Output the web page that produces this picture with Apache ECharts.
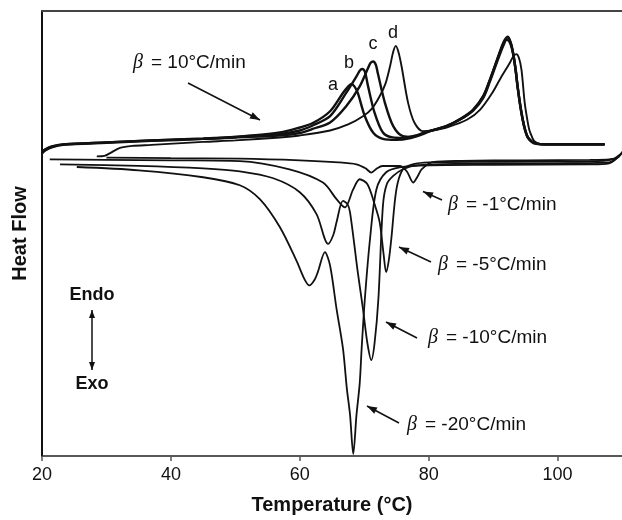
<!DOCTYPE html>
<html>
<head>
<meta charset="utf-8">
<script src="https://cdn.jsdelivr.net/npm/echarts@6/dist/echarts.min.js"></script>
<style>
  html, body { margin: 0; padding: 0; background: #fff; }
  #chart { width: 622px; height: 520px; }
</style>
</head>
<body>
<div id="chart"></div>
<script>
// heat flow in arbitrary units (endo up), temperature in °C
const heatA = [[20,304],[20.5,307],[21.5,310],[23.3,312.5],[30,314.5],[37,316.5],[45,318.5],[50,320.5],[56.9,325],[60,330],[62.1,334.7],[64.7,346.3],[66.7,364.7],[67.5,371],[68,373.7],[68.5,371],[69,364.7],[70.1,341.3],[71.4,324.7],[72.9,318.5],[75,317.5],[77,319],[79,323],[80.5,327],[82.7,331.3],[85,339],[86.9,348],[88.5,362],[89.5,378],[90.5,396],[91.2,409],[91.8,418],[92.3,421.3],[92.8,414],[93.1,405],[93.5,388],[93.8,371.3],[94.2,353],[94.6,338],[95,327],[95.4,320],[96,316],[96.7,314],[98,313],[107.3,313]];
const heatB = [[20,305],[20.5,307.5],[21.5,310.5],[23.3,313],[30,315],[37,317],[45,319],[50,320.5],[56.9,323.5],[60,327],[62,332],[64.7,341.3],[67.2,364.7],[68.8,381.3],[69.3,387],[69.7,388.7],[70.1,386],[70.6,371.3],[71.6,345],[72.9,325],[74.4,320],[76,319.5],[78,322],[80,326],[82.7,331],[85,338.5],[86.9,347.5],[88.5,361.5],[89.5,377.5],[90.5,395.5],[91.2,408],[91.8,417],[92.3,420.5],[92.8,413],[93.1,404],[93.5,387],[93.8,370.5],[94.2,352],[94.6,337],[95,326],[95.4,319.5],[96,315.5],[96.7,313.5],[98,313],[107.3,313]];
const heatC = [[20,305.5],[20.5,308],[21.5,311],[23.3,313],[30,315],[37,317],[45,318.5],[50,320],[56.9,322],[60,324.5],[62,328.5],[64.7,335],[67.2,351.3],[69.3,371.3],[70.6,389.7],[71,395],[71.4,396.3],[71.8,393],[72.1,384.7],[73.2,355],[74.5,331.3],[76,321.3],[77.5,320.5],[79,324],[80.5,327],[82.7,331],[85,338.5],[86.9,347],[88.5,360],[89.5,376],[90.5,394],[91.2,406],[91.7,414],[92.1,418],[92.5,416.5],[92.9,410],[93.2,401],[93.5,388],[93.8,371.3],[94.2,353],[94.6,338],[95,327],[95.4,320],[96,316],[96.7,314],[98,313],[107.3,313]];
const heatD = [[28.5,301],[29.7,301.5],[30.5,304],[32.1,309.5],[34,311.5],[37,312.5],[45,315.5],[50,317],[56.9,320],[60,322],[64.7,327],[67.5,333],[69.8,341.3],[71.2,349],[72.4,361.3],[73.3,374],[74,391.3],[74.5,406],[74.9,412],[75.3,406],[75.8,391.3],[76.8,355],[77.8,334.7],[79.1,326.3],[80.5,327],[83,330.5],[86,338],[88,348],[89.9,365],[91.2,380],[92.6,395],[93.1,401],[93.6,403.7],[94,400],[94.4,388],[94.9,355],[95.3,338],[95.6,328],[96,321],[96.4,316.3],[97.5,313],[107.3,313]];

const cool1 = [[30,299.7],[40,299.2],[50.7,298.7],[60,297],[66,295],[68.8,293],[70.2,289],[71.1,284.7],[72,289],[72.8,291.3],[75.5,291.3],[76.6,286],[77.6,274.7],[78.3,281],[78.9,288],[80.6,295.3],[85,296.5],[95,297],[105,297.5],[108,298],[109.3,299.5],[110.3,308]];
const cool5 = [[21.2,298],[30,297.5],[40,297],[50.7,296.3],[58.4,288],[63.6,274.7],[65.7,258],[67,249.7],[68.3,268],[69.3,278],[70.5,273],[71.6,253],[72.4,234.7],[73,203],[73.4,184.7],[73.8,196],[74.2,218],[75,268],[76,288],[77.5,293],[80,295],[90,295.5],[105,296],[108.5,298],[110.1,305]];
const cool10 = [[22.8,293],[35,291.5],[45,289],[50.7,286],[55.9,279],[60,265],[62.6,243],[64.4,213],[65.2,222],[65.7,234.7],[66.7,256.3],[67.4,253],[67.8,244.7],[69,184.7],[69.8,148],[70.5,113],[71.1,96.3],[71.6,113],[72.2,158],[72.9,251.3],[73.5,273],[74.5,281.3],[76,288],[78,292],[85,293.5],[100,294],[108,295],[109.8,303]];
const cool20 = [[25.4,290.3],[35,287],[45,280],[50.7,272],[53.8,258],[56.9,230],[59.5,196],[60.7,178],[61.5,171.3],[62.3,177],[62.8,184.7],[63.9,204.7],[64.7,191.3],[65.7,148],[66.7,108],[67.3,68],[67.8,41.3],[68.3,2],[68.8,41.3],[69.3,73],[69.6,108],[70.1,158],[70.9,218],[71.9,268],[73.4,285],[75.5,290],[80,292],[90,292.5],[105,293],[108,294],[109.5,301]];

const xTicks = [20, 40, 60, 80, 100];
const curveLabels = ['a', 'b', 'c', 'd'];

const chart = echarts.init(document.getElementById('chart'));

function curve(name, data, width) {
  return {
    name: name, type: 'line', data: data, showSymbol: false,
    smooth: 0.3,
    lineStyle: { color: '#111', width: width },
    clip: true, silent: true
  };
}

function arrow(x1, y1, x2, y2, both, len, half) {
  len = len || 10; half = half || 3.5;
  const out = [];
  const head = (ax, ay, bx, by) => {
    const a = Math.atan2(by - ay, bx - ax);
    const c = Math.cos(a), s = Math.sin(a);
    return {
      type: 'polygon',
      shape: { points: [[bx, by], [bx - len * c + half * s, by - len * s - half * c], [bx - len * c - half * s, by - len * s + half * c]] },
      style: { fill: '#111' }
    };
  };
  out.push({ type: 'line', shape: { x1: x1, y1: y1, x2: x2, y2: y2 }, style: { stroke: '#111', lineWidth: 1.5 } });
  out.push(head(x1, y1, x2, y2));
  if (both) out.push(head(x2, y2, x1, y1));
  return out;
}

function betaLabel(x, y, rest) {
  return [
    { type: 'text', style: { text: 'β', x: x, y: y, font: 'italic 20px "Liberation Serif", "DejaVu Serif", serif', fill: '#111', verticalAlign: 'middle' } },
    { type: 'text', style: { text: rest, x: x + 18, y: y, font: '19px "Liberation Sans", Arial, sans-serif', fill: '#111', verticalAlign: 'middle' } }
  ];
}

const labelPos = [[333, 85], [349, 63], [373, 44], [393, 33]];
const graphics = [].concat(
  betaLabel(133, 63, '= 10°C/min'),
  arrow(188, 83, 260, 120),
  betaLabel(448, 205, '= -1°C/min'),
  arrow(442, 200, 423, 191.5),
  betaLabel(438, 265, '= -5°C/min'),
  arrow(431, 262, 399, 247),
  betaLabel(428, 338, '= -10°C/min'),
  arrow(417, 338, 386, 322),
  betaLabel(407, 425, '= -20°C/min'),
  arrow(399, 423, 367, 406),
  arrow(92, 310, 92, 370, true, 8, 3),
  [
    { type: 'text', style: { text: 'Endo', x: 92, y: 295, font: 'bold 18px "Liberation Sans", Arial, sans-serif', fill: '#111', align: 'center', verticalAlign: 'middle' } },
    { type: 'text', style: { text: 'Exo', x: 92, y: 384, font: 'bold 18px "Liberation Sans", Arial, sans-serif', fill: '#111', align: 'center', verticalAlign: 'middle' } }
  ],
  curveLabels.map((t, i) => ({ type: 'text', style: { text: t, x: labelPos[i][0], y: labelPos[i][1], font: '18px "Liberation Sans", Arial, sans-serif', fill: '#111', align: 'center', verticalAlign: 'middle' } }))
);

chart.setOption({
  animation: false,
  backgroundColor: '#fff',
  grid: { left: 42, right: 0, top: 11, bottom: 62 },
  xAxis: [{
    type: 'value', min: 20, max: 110, interval: 20,
    name: 'Temperature (°C)', nameLocation: 'middle', nameGap: 39,
    nameTextStyle: { fontFamily: 'Liberation Sans, Arial, sans-serif', fontWeight: 'bold', fontSize: 20, color: '#111' },
    axisLine: { lineStyle: { color: '#222', width: 1.5 } },
    axisTick: { inside: false, length: 5, lineStyle: { color: '#555', width: 1.5 } },
    axisLabel: { fontFamily: 'Liberation Sans, Arial, sans-serif', fontSize: 18, color: '#111', margin: 10, showMaxLabel: false,
      formatter: v => xTicks.indexOf(v) >= 0 ? String(v) : '' },
    splitLine: { show: false }
  }, {
    type: 'value', position: 'top', min: 20, max: 110,
    axisLine: { onZero: false, lineStyle: { color: '#444', width: 2 } },
    axisTick: { show: false }, axisLabel: { show: false }, splitLine: { show: false }
  }],
  yAxis: [{
    type: 'value', min: 0, max: 447,
    name: 'Heat Flow', nameLocation: 'middle', nameGap: 12, nameRotate: 90,
    nameTextStyle: { fontFamily: 'Liberation Sans, Arial, sans-serif', fontWeight: 'bold', fontSize: 20, color: '#111' },
    axisLine: { show: true, lineStyle: { color: '#111', width: 2 } },
    axisTick: { show: false }, axisLabel: { show: false }, splitLine: { show: false }
  }, {
    type: 'value', position: 'right', min: 0, max: 447,
    axisLine: { show: true, onZero: false, lineStyle: { color: '#bbb', width: 1 } },
    axisTick: { show: false }, axisLabel: { show: false }, splitLine: { show: false }
  }],
  series: [
    curve('a', heatA, 2.4), curve('b', heatB, 2.4), curve('c', heatC, 2.4), curve('d', heatD, 1.9),
    curve('-1', cool1, 1.8), curve('-5', cool5, 1.8), curve('-10', cool10, 1.8), curve('-20', cool20, 1.8)
  ],
  graphic: graphics
});
</script>
</body>
</html>
